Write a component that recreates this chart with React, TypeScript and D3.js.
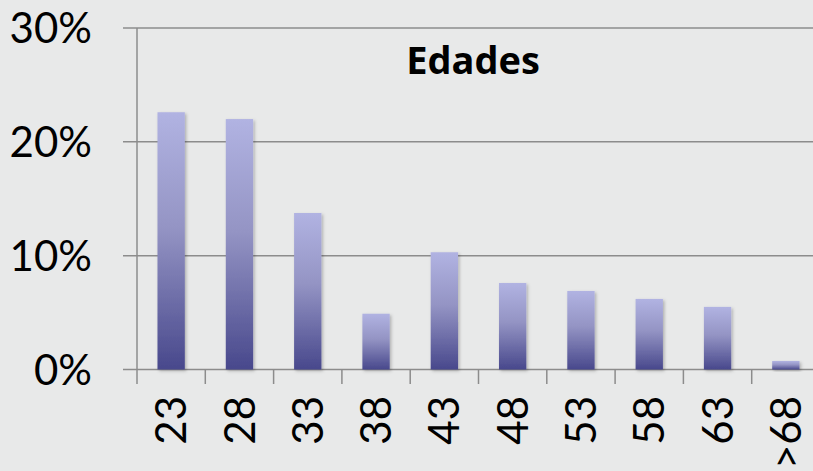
import React from "react";
import * as d3 from "d3";

// Age groups and share of respondents in each group
const ageGroups: string[] = ["23", "28", "33", "38", "43", "48", "53", "58", "63", ">68"];
const shares: number[] = [0.226, 0.22, 0.1375, 0.049, 0.103, 0.076, 0.069, 0.062, 0.055, 0.0075];
const yTicks: number[] = [0, 0.1, 0.2, 0.3];
const chartTitle = "Edades";

const W = 813;
const H = 471;
const FONT = "Lato, 'Open Sans', sans-serif";
const TITLE_FONT = "'Open Sans', Lato, sans-serif";

export default function App() {
  const left = 137;
  const step = 68.3;
  const x = d3
    .scaleBand<string>()
    .domain(ageGroups)
    .range([left, left + step * ageGroups.length])
    .paddingInner(0.6)
    .paddingOuter(0.3);
  const y = d3.scaleLinear().domain([0, 0.3]).range([369.5, 28]);
  const fmt = d3.format(".0%");
  const boundaries = d3.range(ageGroups.length + 1).map((i) => left + i * step);

  return (
    <svg
      width={W}
      height={H}
      style={{ position: "fixed", left: 0, top: 0, background: "#e8e9e9" }}
    >
      <defs>
        <linearGradient id="barFill" x1="0" y1="0" x2="0" y2="1">
          <stop offset="0%" stopColor="#b1b3e2" />
          <stop offset="45%" stopColor="#9494c4" />
          <stop offset="100%" stopColor="#48488c" />
        </linearGradient>
        <filter id="barShadow" x="-30%" y="-10%" width="160%" height="130%">
          <feDropShadow dx="1.5" dy="1.5" stdDeviation="1.5" floodColor="#000" floodOpacity="0.25" />
        </filter>
      </defs>

      {/* horizontal gridlines with left ticks */}
      {yTicks.map((t) => (
        <line
          key={`g${t}`}
          x1={123}
          x2={W}
          y1={y(t)}
          y2={y(t)}
          stroke="#8c8c8c"
          strokeWidth={1.5}
        />
      ))}
      {/* vertical axis */}
      <line x1={left} x2={left} y1={y(0.3)} y2={y(0)} stroke="#8c8c8c" strokeWidth={1.5} />
      {/* category boundary ticks */}
      {boundaries.map((bx, i) => (
        <line key={`t${i}`} x1={bx} x2={bx} y1={y(0)} y2={384} stroke="#8c8c8c" strokeWidth={1.5} />
      ))}

      {/* bars */}
      {ageGroups.map((g, i) => (
        <rect
          key={g}
          x={x(g)!}
          y={y(shares[i])}
          width={x.bandwidth()}
          height={y(0) - y(shares[i])}
          fill="url(#barFill)"
          filter="url(#barShadow)"
        />
      ))}

      {/* y tick labels */}
      {yTicks.map((t) => (
        <text
          key={`l${t}`}
          x={92}
          y={y(t)}
          dy="0.36em"
          textAnchor="end"
          fontFamily={FONT}
          fontSize={42}
          fill="#000"
        >
          {fmt(t)}
        </text>
      ))}

      {/* x tick labels, rotated */}
      {ageGroups.map((g) => {
        const cx = x(g)! + x.bandwidth() / 2;
        return (
          <text
            key={`x${g}`}
            transform={`translate(${cx},396) rotate(-90)`}
            dy="0.36em"
            textAnchor="end"
            fontFamily={FONT}
            fontSize={42}
            fill="#000"
          >
            {g}
          </text>
        );
      })}

      {/* title */}
      <text
        x={473}
        y={74}
        textAnchor="middle"
        fontFamily={TITLE_FONT}
        fontWeight="bold"
        fontSize={38}
        fill="#000"
      >
        {chartTitle}
      </text>
    </svg>
  );
}
